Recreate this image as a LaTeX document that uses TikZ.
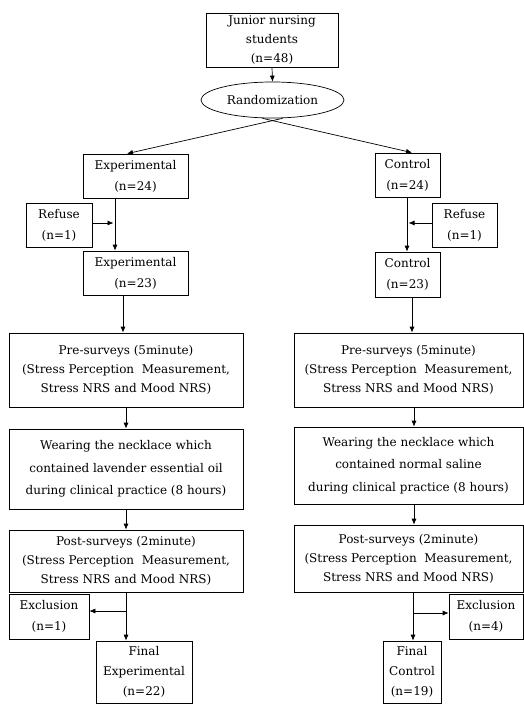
\documentclass[tikz,border=0pt]{standalone}
\usepackage{fontspec}
\setmainfont{DejaVu Serif}
\usepackage{tikz}
\usetikzlibrary{positioning,calc,shapes.geometric,arrows.meta}

\begin{document}
\begin{tikzpicture}[x=1pt,y=-1pt,
	box/.style={draw,rectangle,inner sep=0pt,align=center,line width=0.7pt,
		font=\fontsize{12}{19}\selectfont},
	smallbox/.style={box,font=\fontsize{12}{21}\selectfont},
	wearbox/.style={box,font=\fontsize{12}{22.5}\selectfont},
	arr/.style={-{Latex[length=6pt,width=5pt]},line width=0.7pt}]
\useasboundingbox (0,0) rectangle (524,704);

\node[box,minimum width=132,minimum height=54] (top) at (272,40) {Junior nursing\\students\\(n=48)};
\node[draw,ellipse,inner sep=0pt,line width=0.7pt,minimum width=143,minimum height=36,
	font=\fontsize{12}{19}\selectfont] (rand) at (272.5,100) {Randomization};

	\node[smallbox,minimum width=105,minimum height=44] (exp1) at (135.5,176) {Experimental\\(n=24)};
	\node[smallbox,minimum width=65,minimum height=44] (ctl1) at (407.5,175) {Control\\(n=24)};
	\node[smallbox,minimum width=66,minimum height=44] (ref1) at (59,225) {Refuse\\(n=1)};
	\node[smallbox,minimum width=65,minimum height=44] (ref2) at (464.5,225) {Refuse\\(n=1)};
	\node[smallbox,minimum width=105,minimum height=44] (exp2) at (135.5,273) {Experimental\\(n=23)};
	\node[smallbox,minimum width=65,minimum height=45] (ctl2) at (407.5,274.5) {Control\\(n=23)};

	\node[box,minimum width=234,minimum height=74] (pre1) at (126,370)
		{Pre-surveys (5minute)\\(Stress Perception~~Measurement,\\Stress NRS and Mood NRS)};
	\node[box,minimum width=229,minimum height=74] (pre2) at (408.5,370)
		{Pre-surveys (5minute)\\(Stress Perception~~Measurement,\\Stress NRS and Mood NRS)};
	\node[wearbox,minimum width=234,minimum height=80] (wear1) at (126,469)
		{Wearing the necklace which\\contained lavender essential oil\\during clinical practice (8 hours)};
	\node[wearbox,minimum width=229,minimum height=77] (wear2) at (408.5,465.5)
		{Wearing the necklace which\\contained normal saline\\during clinical practice (8 hours)};
	\node[box,minimum width=234,minimum height=62] (post1) at (126,561)
		{Post-surveys (2minute)\\(Stress Perception~~Measurement,\\Stress NRS and Mood NRS)};
	\node[box,minimum width=229,minimum height=67] (post2) at (408.5,558.5)
		{Post-surveys (2minute)\\(Stress Perception~~Measurement,\\Stress NRS and Mood NRS)};

	\node[smallbox,minimum width=80,minimum height=45] (exc1) at (49,616.5) {Exclusion\\(n=1)};
	\node[smallbox,minimum width=74,minimum height=45] (exc2) at (486,616.5) {Exclusion\\(n=4)};
	\node[box,font=\fontsize{12}{20}\selectfont,minimum width=96,minimum height=62] (fin1) at (144,672)
		{Final\\Experimental\\(n=22)};
	\node[box,font=\fontsize{12}{20}\selectfont,minimum width=58,minimum height=62] (fin2) at (412,672)
		{Final\\Control\\(n=19)};

	\coordinate (j1) at (115,223);
	\coordinate (j2) at (407,223);
	\coordinate (k1) at (126,611);
	\coordinate (k2) at (413,613);

	\draw[arr] (top.south) -- (rand.north);
	\draw[arr] ($(rand.south)+(10,0)$) -- ($(exp1.north)+(-8.5,0)$);
	\draw[arr] ($(rand.south)+(-10,0)$) -- ($(ctl1.north)+(4.5,0)$);
	\draw[arr] (exp1.south -| j1) -- (exp2.north -| j1);
	\draw[arr] (ctl1.south -| j2) -- (ctl2.north -| j2);
	\draw[arr] (ref1.east |- j1) -- ($(j1)+(-1.5,0)$);
	\draw[arr] (ref2.west |- j2) -- ($(j2)+(1.5,0)$);
	\draw[arr] ($(exp2.south)+(-12.5,0)$) -- ($(pre1.north)+(-3,0)$);
	\draw[arr] ($(ctl2.south)+(4.5,0)$) -- ($(pre2.north)+(3.5,0)$);
	\draw[arr] (pre1.south) -- (wear1.north);
	\draw[arr] ($(pre2.south)+(5.5,0)$) -- ($(wear2.north)+(5.5,0)$);
	\draw[arr] (wear1.south) -- (post1.north);
	\draw[arr] ($(wear2.south)+(5.5,0)$) -- ($(post2.north)+(5.5,0)$);
	\draw[arr] (post1.south) -- (fin1.north -| k1);
	\draw[arr] (k1) -- (exc1.east |- k1);
	\draw[arr] (post2.south -| k2) -- (fin2.north -| k2);
	\draw[arr] (k2) -- (exc2.west |- k2);
\end{tikzpicture}
\end{document}
